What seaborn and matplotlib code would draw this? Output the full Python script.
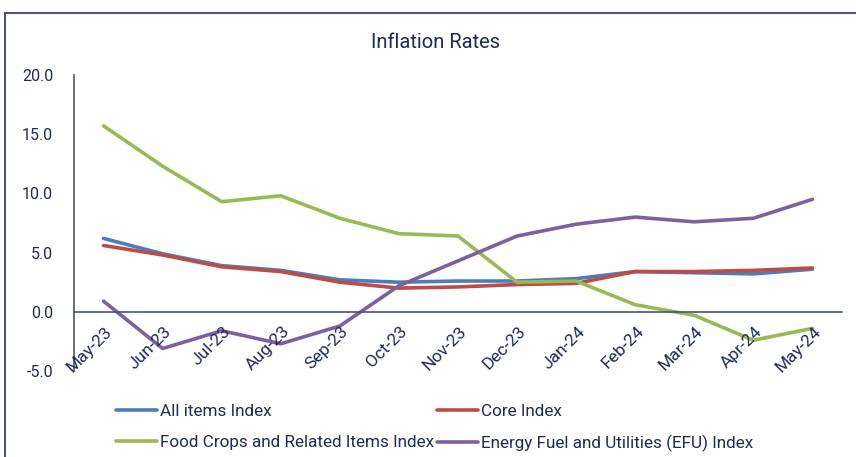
import matplotlib
matplotlib.use("Agg")
import matplotlib.pyplot as plt
import matplotlib.transforms as mtransforms
from matplotlib.patches import Rectangle
import seaborn as sns
import pandas as pd
import numpy as np

months = ["May-23", "Jun-23", "Jul-23", "Aug-23", "Sep-23", "Oct-23", "Nov-23",
          "Dec-23", "Jan-24", "Feb-24", "Mar-24", "Apr-24", "May-24"]
all_items = [6.2, 4.9, 3.9, 3.5, 2.7, 2.5, 2.6, 2.6, 2.8, 3.4, 3.3, 3.2, 3.6]
core = [5.6, 4.8, 3.8, 3.4, 2.5, 2.0, 2.1, 2.3, 2.4, 3.4, 3.4, 3.5, 3.7]
food = [15.7, 12.3, 9.3, 9.8, 7.9, 6.6, 6.4, 2.5, 2.6, 0.6, -0.3, -2.4, -1.4]
energy = [0.9, -3.1, -1.6, -2.7, -1.2, 2.2, 4.3, 6.4, 7.4, 8.0, 7.6, 7.9, 9.5]
series_names = ["All items Index", "Core Index",
                "Food Crops and Related Items Index",
                "Energy Fuel and Utilities (EFU) Index"]
colors = ["#4A7EBB", "#BE4B48", "#98B954", "#7D60A0"]
yticks = [-5.0, 0.0, 5.0, 10.0, 15.0, 20.0]

rows = []
for name, vals in zip(series_names, [all_items, core, food, energy]):
    for i, (m, v) in enumerate(zip(months, vals)):
        rows.append({"idx": i, "month": m, "value": v, "series": name})
df = pd.DataFrame(rows)

sns.set_style("white")
plt.rcParams["font.family"] = ["Roboto", "DejaVu Sans"]
text_color = "#1F2A5C"
axis_color = "#4A5578"

fig = plt.figure(figsize=(8.56, 4.57), dpi=100)
ax = fig.add_axes([74 / 856, 1 - 371 / 457, 768 / 856, 296 / 457])

sns.lineplot(data=df, x="idx", y="value", hue="series", hue_order=series_names,
             palette=colors, linewidth=2.6, ax=ax, legend=True, sort=False)

ax.set_xlim(-0.5, 12.5)
ax.set_ylim(-5, 20)
ax.set_yticks(yticks)
ax.set_yticklabels([f"{t:.1f}" for t in yticks], color=text_color, fontsize=11.5)
ax.set_xlabel("")
ax.set_ylabel("")

for s in ["top", "right"]:
    ax.spines[s].set_visible(False)
ax.spines["left"].set_color(axis_color)
ax.spines["left"].set_linewidth(1.2)
ax.spines["bottom"].set_position(("data", 0))
ax.spines["bottom"].set_color(axis_color)
ax.spines["bottom"].set_linewidth(1.2)

ax.tick_params(axis="y", direction="out", length=5, width=1.2, color=axis_color, pad=10)
ax.set_xticks(np.arange(len(months)))
ax.set_xticklabels([])
ax.tick_params(axis="x", which="major", length=0)
ax.set_xticks(np.arange(-0.5, 12.51, 1), minor=True)
ax.tick_params(axis="x", which="minor", direction="out", length=5, width=1.2, color=axis_color)

trans = ax.transData + mtransforms.ScaledTranslation(1 / 100, -12 / 100, fig.dpi_scale_trans)
for i, m in enumerate(months):
    ax.text(i, 0, m, rotation=45, ha="right", va="top", rotation_mode="anchor",
            transform=trans, fontsize=12.5, color=text_color)

handles, labels = ax.get_legend_handles_labels()
order = [0, 2, 1, 3]
ax.legend([handles[k] for k in order], [labels[k] for k in order], ncol=2,
          loc="upper left", bbox_to_anchor=(101 / 856, 1 - 389 / 457),
          bbox_transform=fig.transFigure, frameon=False, fontsize=12.3,
          handlelength=2.4, handletextpad=0.15, columnspacing=0.2, labelspacing=0.9,
          labelcolor=text_color)
for line in ax.get_legend().get_lines():
    line.set_linewidth(2.6)

fig.text(435 / 856, 1 - 42 / 457, "Inflation Rates", ha="center", va="center",
         fontsize=14.5, color=text_color)

fig.patches.append(Rectangle((5 / 856, -0.1), 1.2, 1 - 13 / 457 + 0.1, transform=fig.transFigure,
                             fill=False, edgecolor="#4A5578", linewidth=1.5, figure=fig))

fig.savefig("out.png", dpi=100)
